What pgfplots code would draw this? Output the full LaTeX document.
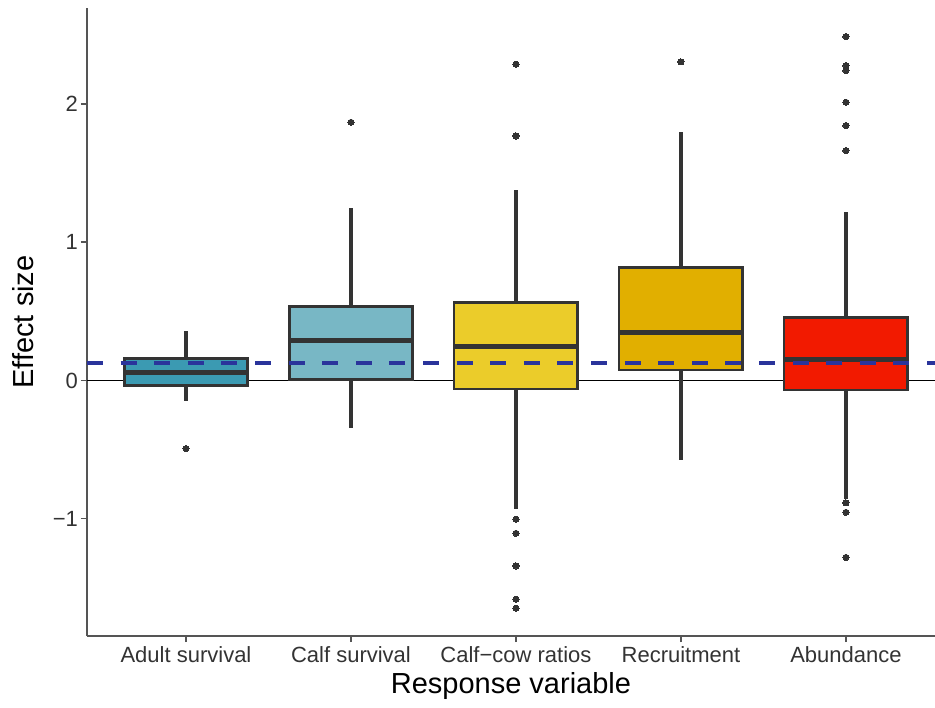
\documentclass[border=0pt]{standalone}
\usepackage{pgfplots}
\pgfplotsset{compat=1.18}
\usepgfplotslibrary{statistics}
\usetikzlibrary{calc}
\usepackage{fontspec}
\setmainfont{Liberation Sans}
\definecolor{c1}{HTML}{3B9AB2}
\definecolor{c2}{HTML}{78B7C5}
\definecolor{c3}{HTML}{EBCC2A}
\definecolor{c4}{HTML}{E1AF00}
\definecolor{c5}{HTML}{F21A00}
\definecolor{edge}{HTML}{333333}
\definecolor{dashc}{RGB}{42,52,155}
\definecolor{axgray}{HTML}{555555}
\pgfplotsset{
  mybox/.style={
    boxplot/draw direction=y,
    boxplot/box extend=0.75,
    boxplot/whisker extend=0,
    boxplot/every box/.style={draw=edge, fill=#1, line width=1.4pt},
    boxplot/every whisker/.style={draw=edge, line width=1.6pt},
    boxplot/every median/.style={draw=edge, line width=2.6pt},
    draw=edge, line width=1.6pt, mark=*,
    mark options={fill=edge, draw=edge, line width=0pt, mark size=1.55pt},
  }
}
\begin{document}
\begin{tikzpicture}
\begin{axis}[
  name=ax,
  scale only axis, width=424pt, height=314pt,
  xmin=0.4, xmax=5.54, ymin=-1.849, ymax=2.695,
  axis x line*=bottom, axis y line*=left,
  axis line style={axgray, line width=0.8pt, -},
  xtick={1,2,3,4,5},
  xticklabels={Adult survival, Calf survival, Calf−cow ratios, Recruitment, Abundance},
  ytick={-1,0,1,2}, yticklabels={−1,0,1,2},
  tick align=outside, major tick length=3pt,
  tick style={axgray, line width=0.8pt},
  ticklabel style={font=\fontsize{11}{13}\selectfont, text=black!80},
  xticklabel style={anchor=base, yshift=-10pt},
  yticklabel style={anchor=east, xshift=2pt},
  xlabel={Response variable}, ylabel={Effect size},
  every axis x label/.style={at={(axis description cs:0.5,0)}, anchor=base, yshift=-28.5pt, font=\fontsize{14.5}{17}\selectfont, text=black},
  every axis y label/.style={at={(axis description cs:0,0.5)}, xshift=-32pt, anchor=center, rotate=90, font=\fontsize{14.5}{17}\selectfont, text=black},
  clip=false,
]
\addplot[black, line width=0.75pt, forget plot] coordinates {(0.4,0) (5.54,0)};

\addplot[mybox=c1, boxplot prepared={draw position=1, lower whisker=-0.149, lower quartile=-0.034, median=0.056, upper quartile=0.157, upper whisker=0.361}]
  table[row sep=\\, y index=0] {data\\ -0.493\\};
\addplot[mybox=c2, boxplot prepared={draw position=2, lower whisker=-0.346, lower quartile=0.009, median=0.288, upper quartile=0.534, upper whisker=1.246}]
  table[row sep=\\, y index=0] {data\\ 1.868\\};
\addplot[mybox=c3, boxplot prepared={draw position=3, lower whisker=-0.930, lower quartile=-0.062, median=0.245, upper quartile=0.566, upper whisker=1.378}]
  table[row sep=\\, y index=0] {data\\ 2.288\\ 1.769\\ -1.004\\ -1.106\\ -1.342\\ -1.583\\ -1.648\\};
\addplot[mybox=c4, boxplot prepared={draw position=4, lower whisker=-0.575, lower quartile=0.076, median=0.349, upper quartile=0.819, upper whisker=1.800}]
  table[row sep=\\, y index=0] {data\\ 2.305\\};
\addplot[mybox=c5, boxplot prepared={draw position=5, lower whisker=-0.860, lower quartile=-0.069, median=0.153, upper quartile=0.457, upper whisker=1.221}]
  table[row sep=\\, y index=0] {data\\ 2.488\\ 2.278\\ 2.242\\ 2.013\\ 1.844\\ 1.663\\ -0.885\\ -0.954\\ -1.280\\};

\addplot[dashc, line width=2pt, dash pattern=on 8pt off 8.8pt, forget plot] coordinates {(0.4,0.124) (5.54,0.124)};
\end{axis}
\pgfresetboundingbox
\path[use as bounding box] ($(ax.south west)+(-43.5pt,-35.5pt)$) rectangle ($(ax.north east)+(0pt,4pt)$);
\end{tikzpicture}
\end{document}
